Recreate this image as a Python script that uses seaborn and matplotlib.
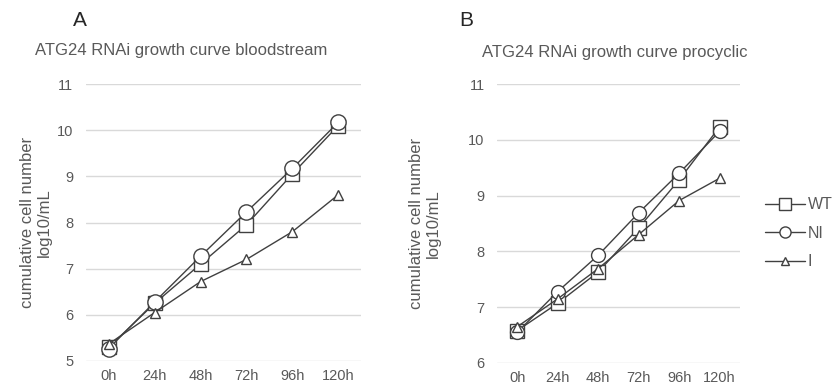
import matplotlib
matplotlib.use("Agg")
import matplotlib.pyplot as plt
import seaborn as sns
import pandas as pd

hours = ["0h", "24h", "48h", "72h", "96h", "120h"]

# panel A - bloodstream
bsf_wt = [5.30, 6.25, 7.10, 7.95, 9.05, 10.10]
bsf_ni = [5.27, 6.28, 7.27, 8.23, 9.17, 10.17]
bsf_i = [5.37, 6.05, 6.72, 7.20, 7.80, 8.60]

# panel B - procyclic
pcf_wt = [6.58, 7.07, 7.63, 8.42, 9.28, 10.23]
pcf_ni = [6.55, 7.28, 7.93, 8.69, 9.40, 10.15]
pcf_i = [6.65, 7.15, 7.69, 8.30, 8.91, 9.31]

series = ["WT", "NI", "I"]
markers = {"WT": "s", "NI": "o", "I": "^"}

TXT = "#595959"
LINE = "#404040"
GRID = "#d9d9d9"

sns.set_style("white")
plt.rcParams["font.family"] = ["Liberation Sans", "DejaVu Sans"]

fig = plt.figure(figsize=(8.34, 3.89), dpi=100)
ax_a = fig.add_axes([0.103, 0.072, 0.330, 0.712])
ax_b = fig.add_axes([0.596, 0.067, 0.291, 0.717])


def desenhar(ax, dados, tamanhos, ylim, ylabel_x):
    for nome, valores in zip(series, dados):
        df = pd.DataFrame({"tempo": hours, "valor": valores})
        sns.lineplot(data=df, x="tempo", y="valor", ax=ax, color=LINE,
                     linewidth=1.0, marker=markers[nome],
                     markersize=tamanhos[nome], markerfacecolor="white",
                     markeredgecolor=LINE, markeredgewidth=1.0,
                     label=nome, legend=False, sort=False)
    ax.set_xlim(-0.5, 5.5)
    ax.set_ylim(*ylim)
    ax.set_yticks(range(ylim[0], ylim[1] + 1))
    ax.grid(axis="y", color=GRID, linewidth=1.0)
    ax.set_axisbelow(True)
    for s in ax.spines.values():
        s.set_visible(False)
    ax.tick_params(axis="both", length=0, labelsize=10.5, colors=TXT)
    ax.tick_params(axis="x", pad=6)
    ax.tick_params(axis="y", pad=9)
    ax.set_xlabel("")
    ax.set_ylabel("cumulative cell number\nlog10/mL", fontsize=12,
                  color=TXT, linespacing=1.15)
    ax.yaxis.set_label_coords(ylabel_x, 0.5)
    return ax


desenhar(ax_a, [bsf_wt, bsf_ni, bsf_i], {"WT": 10, "NI": 11, "I": 7},
         (5, 11), -0.125)
desenhar(ax_b, [pcf_wt, pcf_ni, pcf_i], {"WT": 10, "NI": 10, "I": 7},
         (6, 11), -0.23)

fig.text(0.042, 0.87, "ATG24 RNAi growth curve bloodstream", fontsize=12,
         color=TXT, va="center")
fig.text(0.578, 0.865, "ATG24 RNAi growth curve procyclic", fontsize=12,
         color=TXT, va="center")
fig.text(0.088, 0.948, "A", fontsize=15, color="#262626", va="center")
fig.text(0.551, 0.948, "B", fontsize=15, color="#262626", va="center")

handles, labels = ax_b.get_legend_handles_labels()
fig.legend(handles, labels, loc="center left", bbox_to_anchor=(0.91, 0.4),
           frameon=False, fontsize=11.5, labelcolor=TXT, handlelength=2.5,
           handletextpad=0.15, labelspacing=0.85, markerscale=0.8,
           borderaxespad=0.0)

fig.savefig("out.png", dpi=100)
